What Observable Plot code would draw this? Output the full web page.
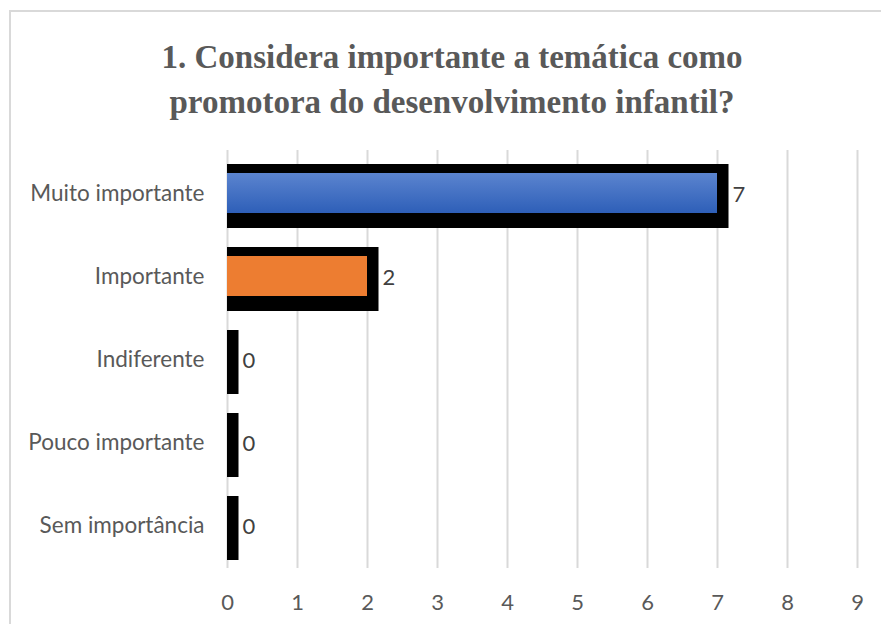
<!DOCTYPE html>
<html>
<head>
<meta charset="utf-8">
<script src="https://cdn.jsdelivr.net/npm/d3@7"></script>
<script src="https://cdn.jsdelivr.net/npm/@observablehq/plot@0.6"></script>
<style>
  html, body { margin: 0; padding: 0; background: #fff; }
  body { width: 881px; height: 624px; position: relative; overflow: hidden; }
  #frame { position: absolute; left: 9px; top: 10px; width: 900px; height: 700px; border: 2px solid #d9d9d9; box-sizing: border-box; }
  #title { position: absolute; left: 9px; top: 35px; width: 886px; text-align: center;
           font-family: "Liberation Serif", serif; font-weight: bold; font-size: 33px; line-height: 45px; color: #595959; }
  #chart { position: absolute; left: 0; top: 140px; }
</style>
</head>
<body>
<div id="frame"></div>
<div id="title">1. Considera importante a temática como<br>promotora do desenvolvimento infantil?</div>
<div id="chart"></div>
<script>
const categories = ["Muito importante", "Importante", "Indiferente", "Pouco importante", "Sem importância"];
const values = [7, 2, 0, 0, 0];
const fills = ["url(#blueGrad)", "#ed7d31", "none", "none", "none"];
const xTicks = [0, 1, 2, 3, 4, 5, 6, 7, 8, 9];

const data = categories.map((c, i) => ({category: c, value: values[i], fill: fills[i]}));

const plot = Plot.plot({
  width: 881,
  height: 484,
  marginLeft: 227,
  marginRight: 24,
  marginTop: 10,
  marginBottom: 56,
  style: {fontFamily: "Lato, 'Open Sans', sans-serif", fontSize: "22.5px", color: "#595959", background: "transparent"},
  x: {domain: [0, 9], ticks: xTicks, label: null},
  y: {domain: categories, paddingInner: 0.52, paddingOuter: 0.26, label: null},
  color: {type: "identity"},
  marks: [
    Plot.ruleX(xTicks, {stroke: "#d9d9d9", strokeWidth: 2}),
    Plot.barX(data, {x: "value", y: "category", fill: "#000", insetTop: -9, insetBottom: -15, insetRight: -11.5}),
    Plot.barX(data, {x: "value", y: "category", fill: "fill"}),
    Plot.text(data, {x: "value", y: "category", text: d => String(d.value), textAnchor: "start", dx: 15, dy: 1, fill: "#404040", fontSize: 22}),
    Plot.axisX({ticks: xTicks, tickSize: 0, tickPadding: 26, fontSize: 22, fill: "#595959", label: null}),
    Plot.axisY({tickSize: 0, tickPadding: 23, fontSize: 22.5, fill: "#595959", label: null})
  ]
});

const ns = "http://www.w3.org/2000/svg";
const defs = document.createElementNS(ns, "defs");
defs.innerHTML = '<linearGradient id="blueGrad" x1="0" y1="0" x2="0" y2="1">' +
  '<stop offset="0" stop-color="#5b84cf"/><stop offset="1" stop-color="#2e5fb8"/></linearGradient>';
plot.insertBefore(defs, plot.firstChild);
document.getElementById("chart").appendChild(plot);
</script>
</body>
</html>
